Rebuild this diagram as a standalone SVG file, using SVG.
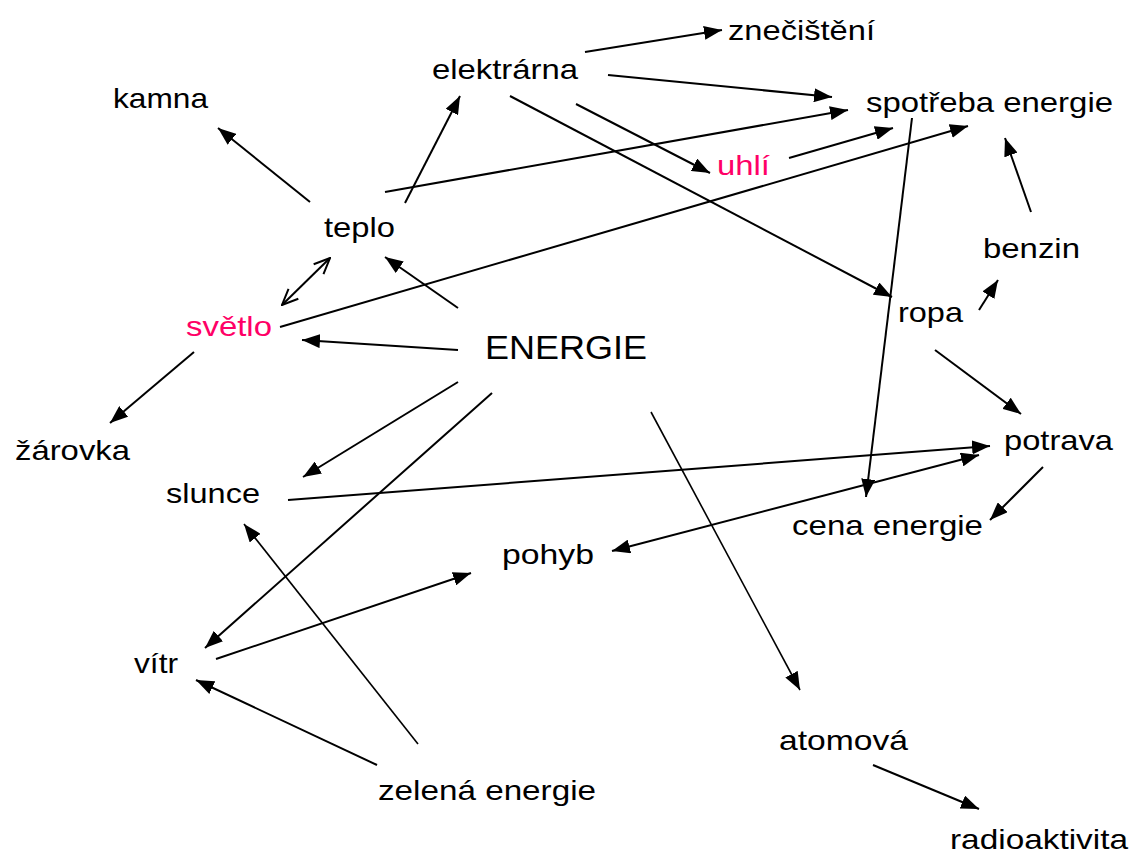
<svg xmlns="http://www.w3.org/2000/svg" width="1131" height="859" viewBox="0 0 1131 859">
  <style>
    text { font-family: "Liberation Sans", Arial, sans-serif; font-size: 28px; fill: #000; }
    .pink { fill: #ff0066; }
    .big { font-size: 33px; }
    .c { stroke: #000; stroke-width: 2; fill: none; marker-end: url(#arr); }
    .thin { stroke-width: 1.6; }
    .both { marker-start: url(#arrs); }
    .open { stroke: #000; stroke-width: 2; fill: none; marker-end: url(#open); marker-start: url(#opens); }
  </style>
  <defs>
    <marker id="arr" markerUnits="userSpaceOnUse" viewBox="0 0 18 14" refX="18" refY="7" markerWidth="18" markerHeight="14" orient="auto">
      <path d="M0,0 L18,7 L0,14 Z" fill="#000"/>
    </marker>
    <marker id="arrs" markerUnits="userSpaceOnUse" viewBox="0 0 18 14" refX="18" refY="7" markerWidth="18" markerHeight="14" orient="auto-start-reverse">
      <path d="M0,0 L18,7 L0,14 Z" fill="#000"/>
    </marker>
    <marker id="open" markerUnits="userSpaceOnUse" viewBox="0 0 18 16" refX="17" refY="8" markerWidth="18" markerHeight="16" orient="auto">
      <path d="M1,1 L17,8 L1,15" fill="none" stroke="#000" stroke-width="2"/>
    </marker>
    <marker id="opens" markerUnits="userSpaceOnUse" viewBox="0 0 18 16" refX="17" refY="8" markerWidth="18" markerHeight="16" orient="auto-start-reverse">
      <path d="M1,1 L17,8 L1,15" fill="none" stroke="#000" stroke-width="2"/>
    </marker>
  </defs>

  <!-- connectors -->
  <g id="connectors">
    <line class="c" x1="585" y1="52" x2="722" y2="30"/>
    <line class="c" x1="608" y1="75" x2="832" y2="97"/>
    <line class="c" x1="510" y1="96" x2="892" y2="297"/>
    <line class="c" x1="576" y1="104" x2="710" y2="173"/>
    <line class="c" x1="789" y1="158" x2="893" y2="128"/>
    <line class="c" x1="385" y1="192" x2="848" y2="110"/>
    <line class="c" x1="405" y1="203" x2="460" y2="96"/>
    <line class="c" x1="310" y1="202" x2="218" y2="128"/>
    <line class="open" x1="282" y1="305" x2="330" y2="258"/>
    <line class="c" x1="458" y1="308" x2="385" y2="257"/>
    <line class="c" x1="280" y1="327" x2="968" y2="126"/>
    <line class="c" x1="912" y1="118" x2="866" y2="497"/>
    <line class="c" x1="1031" y1="212" x2="1005" y2="138"/>
    <line class="c" x1="979" y1="310" x2="998" y2="280"/>
    <line class="c" x1="935" y1="350" x2="1021" y2="414"/>
    <line class="c" x1="1043" y1="467" x2="990" y2="520"/>
    <line class="c" x1="288" y1="500" x2="990" y2="446"/>
    <line class="c both" x1="612" y1="551" x2="979" y2="455"/>
    <line class="c" x1="458" y1="350" x2="302" y2="340"/>
    <line class="c" x1="458" y1="382" x2="303" y2="477"/>
    <line class="c" x1="492" y1="393" x2="205" y2="648"/>
    <line class="c thin" x1="651" y1="412" x2="800" y2="690"/>
    <line class="c" x1="216" y1="659" x2="471" y2="573"/>
    <line class="c" x1="377" y1="765" x2="196" y2="680"/>
    <line class="c thin" x1="418" y1="744" x2="244" y2="524"/>
    <line class="c" x1="873" y1="765" x2="979" y2="809"/>
    <line class="c" x1="194" y1="352" x2="110" y2="423"/>
  </g>

  <g id="n-znecisteni"><text x="728" y="40" textLength="147" lengthAdjust="spacingAndGlyphs">znečištění</text></g>
  <g id="n-elektrarna"><text x="432" y="79" textLength="146" lengthAdjust="spacingAndGlyphs">elektrárna</text></g>
  <g id="n-kamna"><text x="113" y="108" textLength="95" lengthAdjust="spacingAndGlyphs">kamna</text></g>
  <g id="n-spotreba"><text x="866" y="112" textLength="247" lengthAdjust="spacingAndGlyphs">spotřeba energie</text></g>
  <g id="n-uhli"><text class="pink" x="717" y="175" textLength="53" lengthAdjust="spacingAndGlyphs">uhlí</text></g>
  <g id="n-teplo"><text x="324" y="237" textLength="71" lengthAdjust="spacingAndGlyphs">teplo</text></g>
  <g id="n-benzin"><text x="983" y="258" textLength="97" lengthAdjust="spacingAndGlyphs">benzin</text></g>
  <g id="n-svetlo"><text class="pink" x="186" y="336" textLength="86" lengthAdjust="spacingAndGlyphs">světlo</text></g>
  <g id="n-ropa"><text x="898" y="322" textLength="65" lengthAdjust="spacingAndGlyphs">ropa</text></g>
  <g id="n-energie"><text class="big" x="485" y="359" textLength="162" lengthAdjust="spacingAndGlyphs">ENERGIE</text></g>
  <g id="n-zarovka"><text x="15" y="460" textLength="115" lengthAdjust="spacingAndGlyphs">žárovka</text></g>
  <g id="n-potrava"><text x="1004" y="450" textLength="109" lengthAdjust="spacingAndGlyphs">potrava</text></g>
  <g id="n-slunce"><text x="166" y="503" textLength="94" lengthAdjust="spacingAndGlyphs">slunce</text></g>
  <g id="n-cena"><text x="792" y="535" textLength="191" lengthAdjust="spacingAndGlyphs">cena energie</text></g>
  <g id="n-pohyb"><text x="502" y="564" textLength="92" lengthAdjust="spacingAndGlyphs">pohyb</text></g>
  <g id="n-vitr"><text x="134" y="673" textLength="44" lengthAdjust="spacingAndGlyphs">vítr</text></g>
  <g id="n-atomova"><text x="779" y="750" textLength="129" lengthAdjust="spacingAndGlyphs">atomová</text></g>
  <g id="n-zelena"><text x="378" y="800" textLength="218" lengthAdjust="spacingAndGlyphs">zelená energie</text></g>
  <g id="n-radioaktivita"><text x="950" y="849" textLength="178" lengthAdjust="spacingAndGlyphs">radioaktivita</text></g>
</svg>
